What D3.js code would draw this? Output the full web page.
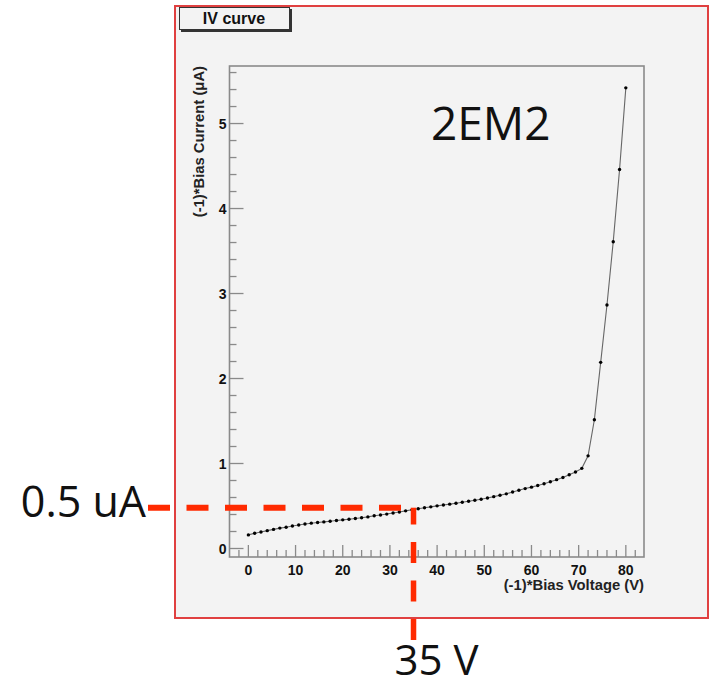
<!DOCTYPE html>
<html lang="en">
<head>
    <meta charset="UTF-8">
    <title>IV curve 2EM2</title>
    <script src="https://d3js.org/d3.v7.min.js"></script>
    <style>
        body { margin: 0; background: #fff; }
        svg { display: block; }
        .tick-label { font-family: "Liberation Sans", Arial, sans-serif; font-weight: bold; font-size: 14px; fill: #111; }
        .axis-title { font-family: "Liberation Sans", Arial, sans-serif; font-weight: bold; font-size: 14.8px; fill: #222; }
        .note { font-family: "Open Sans", "Noto Sans", sans-serif; fill: #111; }
    </style>
</head>
<body>
<div id="chart"></div>
<script>
    // bias voltage (V), step of 4/3 V
    const voltages = [
        0, 1.33, 2.67, 4, 5.33, 6.67, 8, 9.33, 10.67, 12,
        13.33, 14.67, 16, 17.33, 18.67, 20, 21.33, 22.67, 24, 25.33,
        26.67, 28, 29.33, 30.67, 32, 33.33, 34.67, 36, 37.33, 38.67,
        40, 41.33, 42.67, 44, 45.33, 46.67, 48, 49.33, 50.67, 52,
        53.33, 54.67, 56, 57.33, 58.67, 60, 61.33, 62.67, 64, 65.33,
        66.67, 68, 69.33, 70.67, 72, 73.33, 74.67, 76, 77.33, 78.67, 80
    ];
    // bias current (uA)
    const currents = [
        0.16, 0.18, 0.195, 0.21, 0.225, 0.24, 0.25, 0.265, 0.277, 0.288,
        0.298, 0.306, 0.313, 0.321, 0.329, 0.337, 0.345, 0.353, 0.362, 0.372,
        0.385, 0.395, 0.405, 0.418, 0.43, 0.443, 0.455, 0.467, 0.479, 0.49,
        0.502, 0.512, 0.522, 0.533, 0.544, 0.556, 0.568, 0.58, 0.594, 0.61,
        0.627, 0.643, 0.665, 0.685, 0.705, 0.722, 0.742, 0.762, 0.785, 0.81,
        0.835, 0.868, 0.9, 0.943, 1.09, 1.515, 2.19, 2.865, 3.61, 4.46, 5.42
    ];
    const xTicks = [0, 10, 20, 30, 40, 50, 60, 70, 80];
    const yTicks = [0, 1, 2, 3, 4, 5];
    const title = "IV curve";
    const sample = "2EM2";
    const xTitle = "(-1)*Bias Voltage (V)";
    const yTitle = "(-1)*Bias Current (\u03bcA)";
    // marked operating point
    const markV = 35, markI = 0.48;
    const markVLabel = "35 V", markILabel = "0.5 uA";

    const W = 710, H = 688;
    const frame = { left: 175, top: 6, right: 708, bottom: 618 };
    const plot = { left: 229.5, top: 66, right: 644, bottom: 557 };

    const data = voltages.map((v, i) => ({ v: v, i: currents[i] }));

    const x = d3.scaleLinear().domain([-4, 83.85]).range([plot.left, plot.right]);
    const y = d3.scaleLinear().domain([-0.1, 5.677]).range([plot.bottom, plot.top]);

    const svg = d3.select("#chart").append("svg")
        .attr("width", W).attr("height", H);

    // canvas with red border
    svg.append("rect")
        .attr("x", frame.left).attr("y", frame.top)
        .attr("width", frame.right - frame.left).attr("height", frame.bottom - frame.top)
        .attr("fill", "#f3f3f3").attr("stroke", "#e04040").attr("stroke-width", 2);

    // title box with shadow
    svg.append("rect").attr("x", 181).attr("y", 9).attr("width", 111).attr("height", 23).attr("fill", "#333");
    svg.append("rect").attr("x", 179.5).attr("y", 7.5).attr("width", 110).attr("height", 22)
        .attr("fill", "#f3f3f3").attr("stroke", "#333").attr("stroke-width", 1);
    svg.append("text").attr("class", "axis-title").attr("x", 234).attr("y", 24)
        .attr("text-anchor", "middle").style("font-size", "16px").style("fill", "#111").text(title);

    // plot frame
    svg.append("rect")
        .attr("x", plot.left).attr("y", plot.top)
        .attr("width", plot.right - plot.left).attr("height", plot.bottom - plot.top)
        .attr("fill", "none").attr("stroke", "#8a8a8a").attr("stroke-width", 1.6);

    // x ticks (pointing up)
    const xMinor = d3.range(-2, 84, 2);
    const g = svg.append("g").attr("stroke", "#8a8a8a").attr("stroke-width", 1.3);
    g.selectAll(".xt").data(xMinor).enter().append("line")
        .attr("x1", d => x(d)).attr("x2", d => x(d))
        .attr("y1", plot.bottom).attr("y2", d => plot.bottom - (d % 10 === 0 ? 12 : 7));
    // y ticks (pointing right)
    const yMinor = d3.range(0, 28.5).map(k => k / 5);
    g.selectAll(".yt").data(yMinor).enter().append("line")
        .attr("y1", d => y(d)).attr("y2", d => y(d))
        .attr("x1", plot.left).attr("x2", (d, k) => plot.left + (k % 5 === 0 ? 14 : 7));

    svg.selectAll(".xl").data(xTicks).enter().append("text")
        .attr("class", "tick-label").attr("x", d => x(d)).attr("y", 575)
        .attr("text-anchor", "middle").text(d => d);
    svg.selectAll(".yl").data(yTicks).enter().append("text")
        .attr("class", "tick-label").attr("x", 226.5).attr("y", d => y(d)).attr("dy", "0.36em")
        .attr("text-anchor", "end").text(d => d);

    svg.append("text").attr("class", "axis-title")
        .attr("x", plot.right).attr("y", 590).attr("text-anchor", "end").text(xTitle);
    svg.append("text").attr("class", "axis-title")
        .attr("transform", `translate(204,${plot.top}) rotate(-90)`)
        .attr("text-anchor", "end").text(yTitle);

    // curve
    const line = d3.line().x(d => x(d.v)).y(d => y(d.i));
    svg.append("path").datum(data).attr("d", line)
        .attr("fill", "none").attr("stroke", "#666").attr("stroke-width", 1.1);
    svg.selectAll(".pt").data(data).enter().append("circle")
        .attr("cx", d => x(d.v)).attr("cy", d => y(d.i)).attr("r", 1.7).attr("fill", "#000");

    // sample name
    svg.append("text").attr("class", "note").attr("x", 431).attr("y", 140)
        .style("font-size", "46px").text(sample);

    // red dashed guide lines
    const px = x(markV), py = y(markI);
    svg.append("line").attr("x1", 148).attr("x2", px - 11).attr("y1", py).attr("y2", py)
        .attr("stroke", "#ff2a00").attr("stroke-width", 6).attr("stroke-dasharray", "22 16.5");
    svg.append("line").attr("x1", px).attr("x2", px).attr("y1", 640).attr("y2", py)
        .attr("stroke", "#ff2a00").attr("stroke-width", 5.5).attr("stroke-dasharray", "21 17.5");

    svg.append("text").attr("class", "note").attr("x", 146).attr("y", 517)
        .attr("text-anchor", "end").style("font-size", "43px").text(markILabel);
    svg.append("text").attr("class", "note").attr("x", px - 19).attr("y", 675)
        .style("font-size", "42px").text(markVLabel);
</script>
</body>
</html>
